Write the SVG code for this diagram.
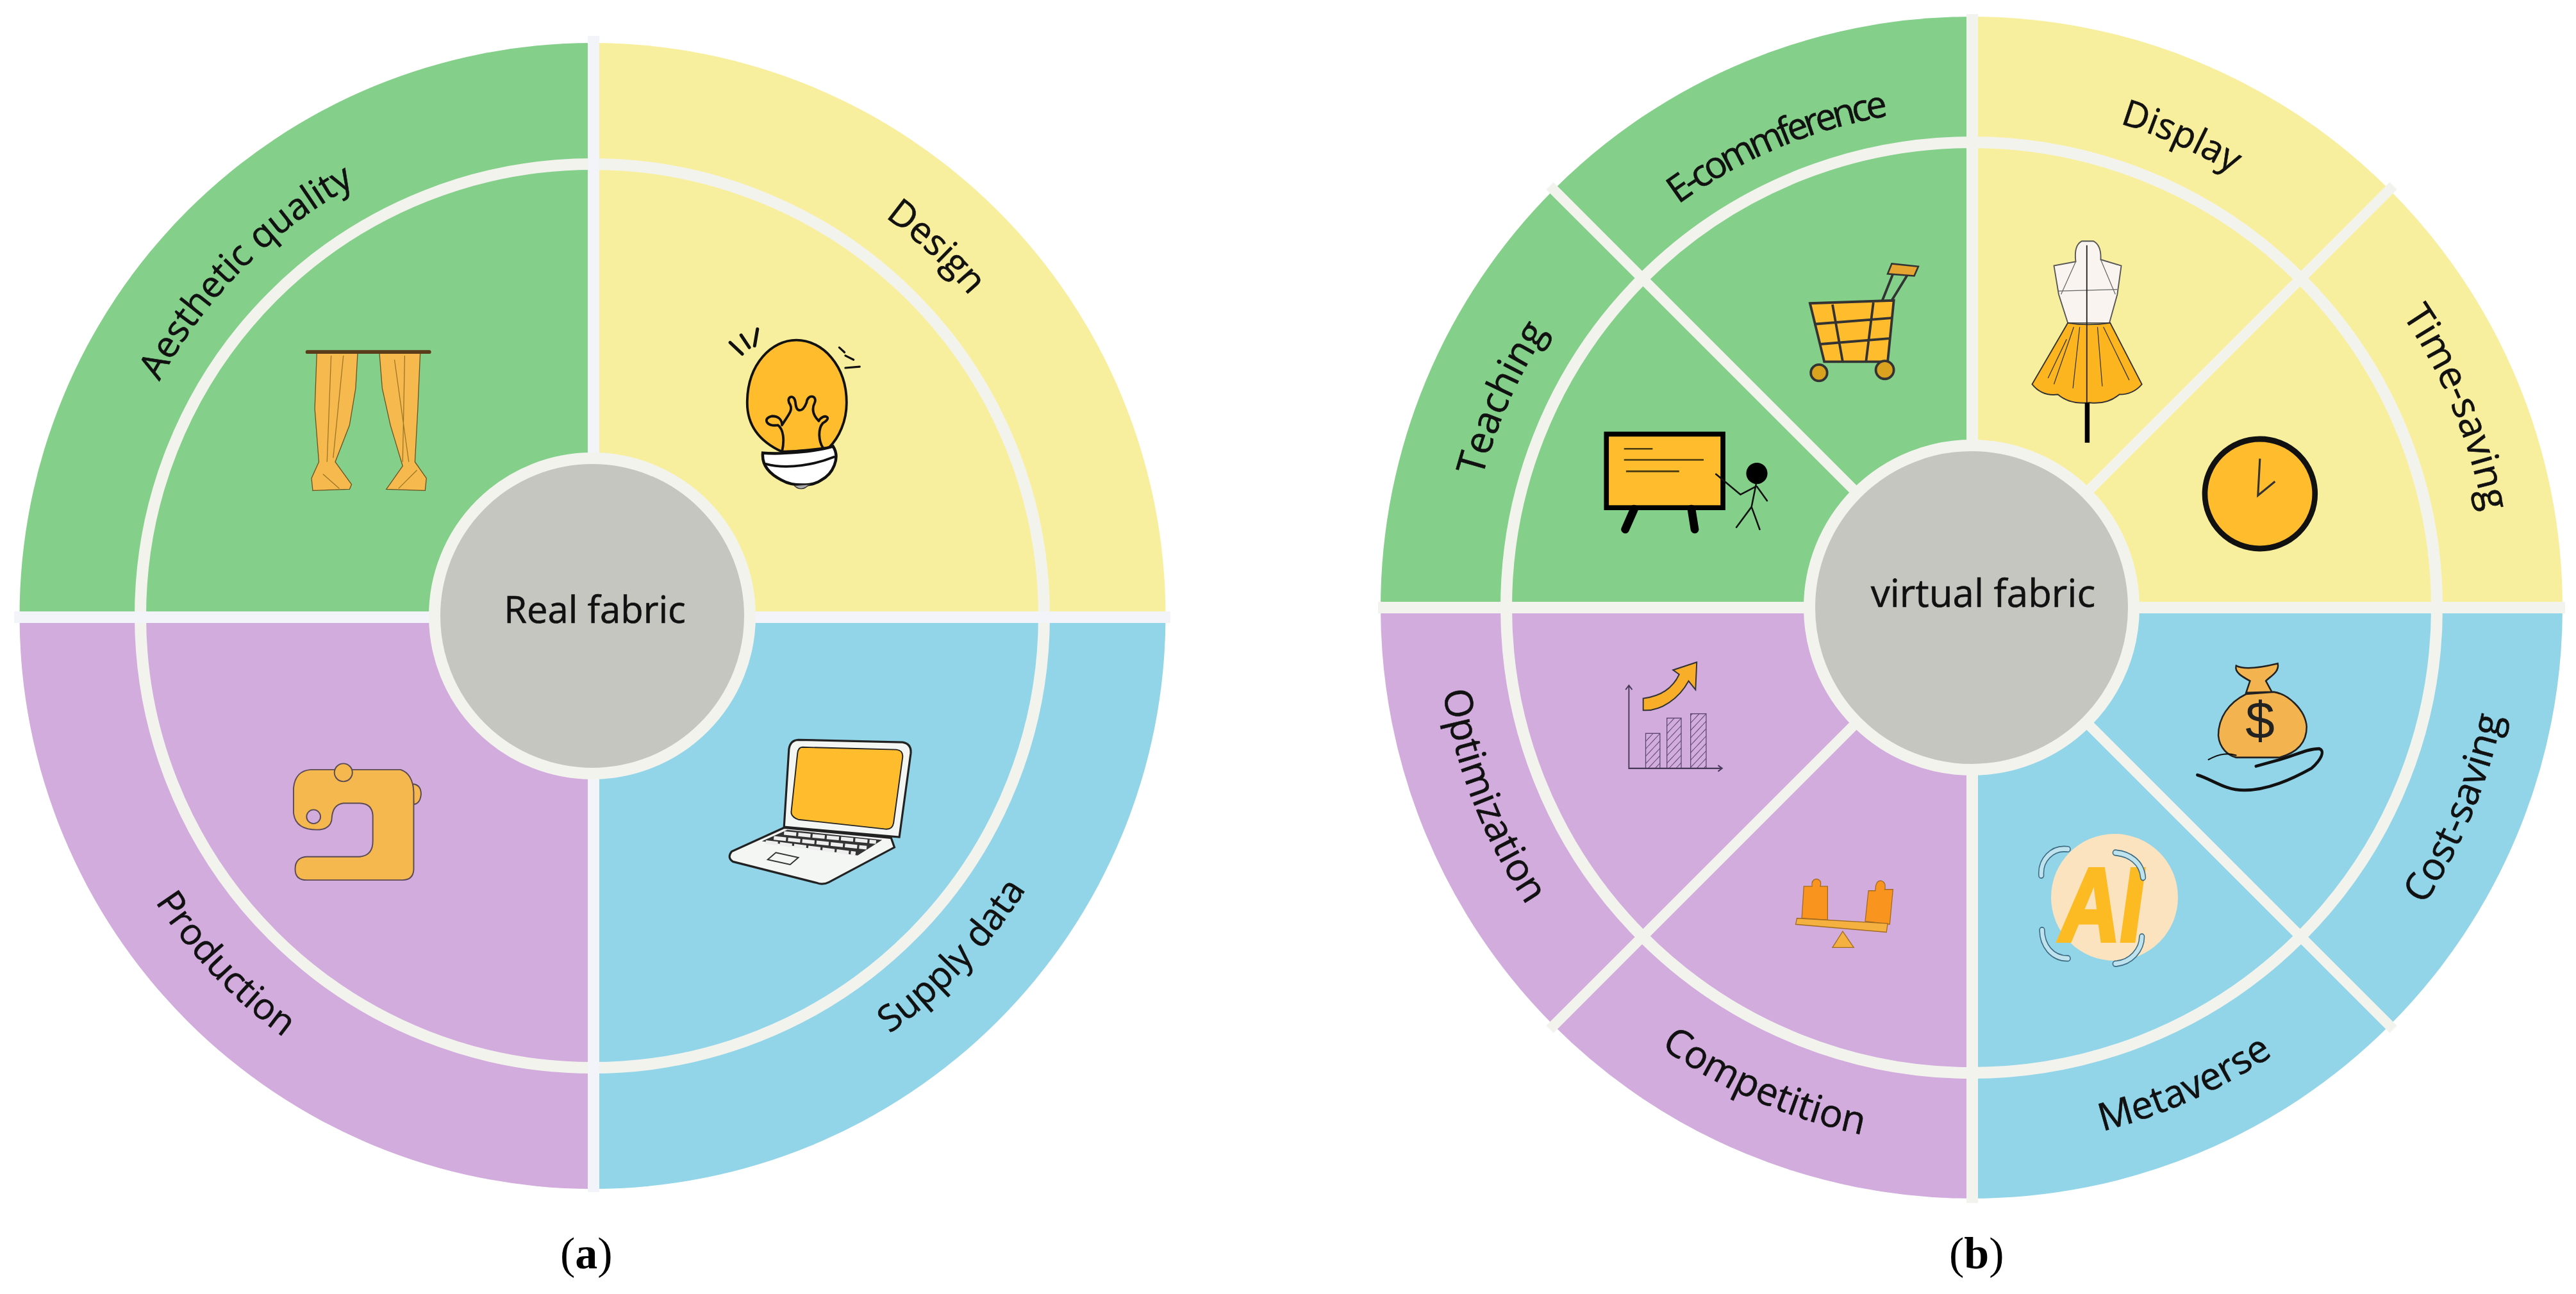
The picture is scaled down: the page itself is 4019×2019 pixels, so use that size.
<svg xmlns="http://www.w3.org/2000/svg" xmlns:xlink="http://www.w3.org/1999/xlink" width="4019" height="2019" viewBox="0 0 4019 2019">
<style>
.g{fill:#84CF8A}.y{fill:#F8EF9E}.p{fill:#D1ACDD}.b{fill:#92D5E8}
.hub{fill:#C6C6C1;stroke:#F3F3EE;stroke-width:18}
.ring{fill:none;stroke:#F3F3EE;stroke-width:18}
.dl{stroke:#F3F4F9;stroke-width:18;fill:none}
.dr{stroke:#F3F3EE;stroke-width:18;fill:none}
.dd{stroke:#F3F3EE;stroke-width:16;fill:none}
.lbl{font-family:"Open Sans","Noto Sans",sans-serif;font-size:60px;fill:#111;stroke:#111;stroke-width:.6;text-anchor:middle}
.lbl2{font-size:57px}
.hubt{font-family:"Open Sans","Noto Sans",sans-serif;font-size:58px;fill:#111;stroke:#111;stroke-width:.6;text-anchor:middle}
.cap{font-family:"Liberation Serif",serif;font-size:70px;fill:#000}
.cap tspan{font-weight:bold}
.k{fill:none;stroke:#111;stroke-linecap:round;stroke-linejoin:round}
.or{fill:#FFBD2E}
</style>
<defs>
<path id="a768" d="M-384,-665.1A768,768 0 0 1 384,-665.1"/>
<path id="a772" d="M-386,-668.6A772,772 0 0 1 386,-668.6"/>
<path id="i815" d="M-407.5,705.8A815,815 0 0 0 407.5,705.8"/>
<path id="i800" d="M-400,692.8A800,800 0 0 0 400,692.8"/>
<path id="a790" d="M-395,-684.1A790,790 0 0 1 395,-684.1"/>
<path id="a778" d="M-389,-673.7A778,778 0 0 1 389,-673.7"/>
<path id="a812" d="M-406,-703.2A812,812 0 0 1 406,-703.2"/>
<path id="i835" d="M-417.5,723.1A835,835 0 0 0 417.5,723.1"/>
<path id="i840" d="M-420,727.4A840,840 0 0 0 420,727.4"/>
<path id="i842" d="M-421,729.2A842,842 0 0 0 421,729.2"/>
<path id="i845" d="M-422.5,731.8A845,845 0 0 0 422.5,731.8"/>
<pattern id="hatch" width="12" height="12" patternUnits="userSpaceOnUse" patternTransform="rotate(45)"><rect width="12" height="12" fill="#D1ACDD"/><path d="M0,0V12" stroke="#5b4570" stroke-width="3"/></pattern>
</defs>
<rect width="4019" height="2019" fill="#fff"/>

<g id="real-fabric-chart">
<g id="aesthetic-quality">
<path class="g" d="M924.5,961V67A894,894 0 0 0 30.5,961Z"/>
<text class="lbl lbl2" transform="translate(924,961) rotate(-45.2)"><textPath href="#a768" startOffset="50%">Aesthetic quality</textPath></text>
<g transform="scale(.6378)">
<path d="M775,862H875L870,950L855,1040L820,1130L860,1185L855,1197L765,1200L762,1170L780,1130L770,1000Z" fill="#F5B94D" stroke="#6b5022" stroke-width="2"/>
<path d="M928,862H1028L1022,1000L1015,1130L1043,1170L1040,1200L945,1197L985,1140L955,1040L935,950Z" fill="#F5B94D" stroke="#6b5022" stroke-width="2"/>
<path d="M810,870L800,1130M840,870L815,1120M990,870L985,1130M965,880L1000,1130M790,1160L830,1195M1020,1150L975,1195" fill="none" stroke="#9c7428" stroke-width="2"/>
<path d="M752,861H1050" stroke="#5a3a18" stroke-width="9" stroke-linecap="round"/>
</g>
</g>
<g id="design">
<path class="y" d="M924.5,961V67A894,894 0 0 1 1818.5,961Z"/>
<text class="lbl lbl2" transform="translate(924,961) rotate(43)"><textPath href="#a772" startOffset="50%">Design</textPath></text>
<g transform="translate(1000,0) scale(.6378)">
<path d="M345,1105C290,1080 258,1040 260,980C262,890 320,832 380,832C445,832 503,895 503,985C503,1030 485,1070 460,1095C420,1100 380,1105 345,1105Z" class="or" stroke="#111" stroke-width="6"/>
<path d="M298,1108C340,1112 430,1105 470,1092C488,1120 470,1160 440,1175C420,1190 370,1190 345,1175C315,1160 295,1140 298,1108Z" fill="#fff" stroke="#111" stroke-width="7"/>
<path d="M375,1188Q393,1205 412,1185Z" fill="#aaa" stroke="#333" stroke-width="2"/>
<path class="k" stroke-width="6" d="M305,1135C360,1150 430,1135 472,1118"/>
<path class="k" stroke-width="6" d="M345,1105C352,1075 348,1050 335,1040C305,1045 298,1022 320,1018C340,1018 345,1030 345,1040C360,1015 372,1005 365,990C352,972 375,960 378,985C380,1010 395,1010 405,985C408,962 432,968 425,985C415,1005 425,1020 435,1030C445,1010 472,1020 445,1035C432,1050 435,1080 445,1095"/>
<path class="k" stroke-width="8" d="M218,838L248,866M245,820L265,850M285,805L278,846"/>
<path class="k" stroke-width="5" d="M485,850L498,862M500,870L520,880M500,900L535,897"/>
</g>
</g>
<g id="production">
<path class="p" d="M924.5,961V1855A894,894 0 0 1 30.5,961Z"/>
<text class="lbl lbl2" transform="translate(924,961) rotate(46.5)"><textPath href="#i815" startOffset="50%">Production</textPath></text>
<g transform="translate(0,1000) scale(.6378)">
<path d="M1010,350Q1030,352 1030,375Q1028,398 1012,400Z" fill="#F4B84F" stroke="#5a4a55" stroke-width="3"/>
<path d="M760,315H980Q1010,325 1012,370V560Q1010,585 985,585H750Q722,585 722,558Q722,530 750,528H880Q912,525 912,490V430Q912,398 880,397H840Q815,400 812,430Q812,462 775,462Q722,462 718,420V360Q722,318 760,315Z" fill="#F4B84F" stroke="#5a4a55" stroke-width="3"/>
<circle cx="767" cy="430" r="17" fill="#D1ACDD" stroke="#5a4a55" stroke-width="3"/>
<circle cx="840" cy="322" r="22" fill="#F4B84F" stroke="#5a4a55" stroke-width="3"/>
</g>
</g>
<g id="supply-data">
<path class="b" d="M924.5,961V1855A894,894 0 0 0 1818.5,961Z"/>
<text class="lbl lbl2" transform="translate(924,961) rotate(-46.6)"><textPath href="#i800" startOffset="50%">Supply data</textPath></text>
<g transform="translate(1000,1000) scale(.6378)">
<path d="M385,242L640,248Q662,252 660,275L632,480L350,455L362,265Q365,243 385,242Z" fill="#F4F6F4" stroke="#222" stroke-width="5"/>
<path d="M395,260L625,266Q642,268 640,285L618,445Q615,463 595,460L385,437Q365,430 368,415L383,275Q385,260 395,260Z" class="or" stroke="#222" stroke-width="3"/>
<path d="M350,457L612,482L620,505L460,590Q445,598 430,592L225,540Q210,530 222,515Z" fill="#F4F6F4" stroke="#222" stroke-width="5"/>
<path d="M358,462L590,487L530,525L296,490Z" fill="#333"/>
<path d="M350,470L575,492M325,482L552,506M305,492L525,520" stroke="#eee" stroke-width="9" stroke-dasharray="30,5" fill="none"/>
<path d="M310,535L330,518L385,530L365,547Z" fill="none" stroke="#333" stroke-width="3"/>
</g>
</g>
<g id="real-dividers">
<circle class="ring" cx="924" cy="961" r="705"/>
<path class="dl" d="M926,56V1860M22,963H1826"/>
</g>
<g id="real-fabric">
<circle class="hub" cx="924" cy="961" r="246"/>
<text class="hubt" x="928" y="972">Real fabric</text>
</g>
<text id="caption-a" class="cap" x="874" y="1979">(<tspan>a</tspan>)</text>
</g>

<g id="virtual-fabric-chart">
<g id="teaching">
<path class="g" d="M3076,948H2154A922,922 0 0 1 2424,296Z"/>
<text class="lbl" transform="translate(3076,948) rotate(-66)"><textPath href="#a790" startOffset="50%">Teaching</textPath></text>
<g transform="translate(2100,0) scale(.6378)">
<rect x="637" y="1062" width="285" height="180" class="or" stroke="#000" stroke-width="12"/>
<path d="M705,1245L683,1295M845,1245L853,1295" stroke="#000" stroke-width="20" stroke-linecap="round"/>
<path d="M680,1098H750M680,1125H875M685,1153H815" stroke="#4a3a10" stroke-width="4"/>
<circle cx="1005" cy="1158" r="26" fill="#000"/>
<path class="k" stroke-width="4" d="M1003,1185L992,1240L955,1290M992,1240L1012,1295M1003,1190L965,1210L905,1160M1005,1190L1030,1225"/>
</g>
</g>
<g id="e-commerce">
<path class="g" d="M3076,948L2424,296A922,922 0 0 1 3076,26Z"/>
<text class="lbl" style="font-size:58px;letter-spacing:-5.5px" transform="translate(3076,948) rotate(-23)"><textPath href="#a778" startOffset="50%">E-commference</textPath></text>
<g transform="translate(2100,0) scale(.6378)">
<path d="M1135,742L1340,735L1325,885L1170,885Z" class="or" stroke="#333" stroke-width="6"/>
<path d="M1190,745L1215,885M1290,740L1272,885M1145,793L1335,778M1160,842L1328,828M1312,735L1340,665M1335,735L1375,670" stroke="#333" stroke-width="6" fill="none"/>
<path d="M1325,670L1335,645L1400,652L1390,675Z" fill="#E5A530" stroke="#333" stroke-width="4"/>
<circle cx="1157" cy="912" r="20" fill="#D9A21F" stroke="#333" stroke-width="6"/>
<circle cx="1318" cy="905" r="22" fill="#D9A21F" stroke="#333" stroke-width="6"/>
</g>
</g>
<g id="display">
<path class="y" d="M3076,948V26A922,922 0 0 1 3728,296Z"/>
<text class="lbl lbl2" transform="translate(3076,948) rotate(24)"><textPath href="#a790" startOffset="50%">Display</textPath></text>
<g transform="translate(3050,0) scale(.618,.6378)">
<path d="M305,640Q300,600 320,590H350Q370,600 368,635L420,650L410,720L390,790H285L262,720L250,650Z" fill="#F9F4EF" stroke="#555" stroke-width="3"/>
<path d="M262,712L410,708M305,640L268,720M368,635L405,720" stroke="#666" stroke-width="2" fill="none"/>
<path d="M285,790Q335,798 392,790L472,940Q450,965 415,965Q385,990 340,985Q290,990 260,965Q220,970 195,940Z" fill="#FCB51F" stroke="#333" stroke-width="3"/>
<path d="M300,800L250,940M315,800L298,950M360,800L372,945M375,800L440,930M282,830L235,925" stroke="#333" stroke-width="2" fill="none"/>
<path d="M333,600V990" stroke="#222" stroke-width="3"/>
<rect x="328" y="985" width="12" height="98" fill="#000"/>
</g>
</g>
<g id="time-saving">
<path class="y" d="M3076,948L3728,296A922,922 0 0 1 3998,948Z"/>
<text class="lbl" transform="translate(3076,948) rotate(67.6)"><textPath href="#a812" startOffset="50%">Time-saving</textPath></text>
<g transform="translate(3050,0) scale(.618,.6378)">
<ellipse cx="770" cy="1208" rx="139" ry="134" class="or" stroke="#111" stroke-width="14"/>
<path d="M770,1122L765,1212L808,1178" stroke="#333" stroke-width="5" fill="none"/>
</g>
</g>
<g id="optimization">
<path class="p" d="M3076,948H2154A922,922 0 0 0 2424,1600Z"/>
<text class="lbl" transform="translate(3076,948) rotate(68.6)"><textPath href="#i835" startOffset="50%">Optimization</textPath></text>
<g transform="translate(2100,950) scale(.6378,.6818)">
<rect x="733" y="285" width="35" height="80" fill="url(#hatch)" stroke="#5b4570" stroke-width="2"/>
<rect x="785" y="250" width="35" height="115" fill="url(#hatch)" stroke="#5b4570" stroke-width="2"/>
<rect x="843" y="240" width="38" height="125" fill="url(#hatch)" stroke="#5b4570" stroke-width="2"/>
<path d="M692,175V365H920M684,185L692,175L700,185M910,358L920,365L910,372" fill="none" stroke="#4a3a5a" stroke-width="3"/>
<path d="M727,205C770,200 800,180 815,150L800,140L858,122L855,185L838,165C815,205 770,235 727,232Z" fill="#F9AE29" stroke="#333" stroke-width="3"/>
</g>
</g>
<g id="competition">
<path class="p" d="M3076,948L2424,1600A922,922 0 0 0 3076,1870Z"/>
<text class="lbl" transform="translate(3076,948) rotate(23.5)"><textPath href="#i840" startOffset="50%">Competition</textPath></text>
<g transform="translate(2100,950) scale(.6378,.6818)">
<path d="M1115,708L1120,635H1140Q1138,620 1150,618Q1165,620 1160,635H1178V712Z" fill="#F9941F" stroke="#a06a20" stroke-width="2"/>
<path d="M1270,715L1278,645H1295Q1295,622 1308,622Q1322,625 1318,642H1338L1330,722Z" fill="#F9941F" stroke="#a06a20" stroke-width="2"/>
<path d="M1103,708L1325,720L1322,740L1100,722Z" fill="#F5B13F" stroke="#a06a20" stroke-width="2"/>
<path d="M1215,738L1190,775H1242Z" fill="#F5B13F" stroke="#a06a20" stroke-width="2"/>
</g>
</g>
<g id="metaverse">
<path class="b" d="M3076,948V1870A922,922 0 0 0 3728,1600Z"/>
<text class="lbl" transform="translate(3076,948) rotate(-24)"><textPath href="#i842" startOffset="50%">Metaverse</textPath></text>
<ellipse cx="3299" cy="1400" rx="99" ry="99" fill="#FBE3BF"/>
<text transform="translate(3208,1468) skewX(-8) scale(1,1.25)" font-family="'Liberation Sans',sans-serif" font-weight="bold" font-size="130" fill="#FDBB23" stroke="#FDBB23" stroke-width="5">AI</text>
<g transform="translate(3050,950) scale(.618,.6818)" fill="none" stroke-linecap="round">
<path stroke="#3a6a80" stroke-width="15" d="M285,550C245,545 215,575 218,610M405,558C440,560 472,580 475,615M220,735C220,770 245,800 285,800M472,750C472,780 445,810 405,812"/>
<path stroke="#BFE3EE" stroke-width="10" d="M285,550C245,545 215,575 218,610M405,558C440,560 472,580 475,615M220,735C220,770 245,800 285,800M472,750C472,780 445,810 405,812"/>
</g>
</g>
<g id="cost-saving">
<path class="b" d="M3076,948L3728,1600A922,922 0 0 0 3998,948Z"/>
<text class="lbl" transform="translate(3076,948) rotate(-67.5)"><textPath href="#i845" startOffset="50%">Cost-saving</textPath></text>
<g transform="translate(3050,950) scale(.618,.6818)">
<path d="M735,195C690,215 665,250 665,290C668,320 690,335 710,340L820,340C860,330 888,310 888,270C885,230 840,195 805,190Z" fill="#F3B34F" stroke="#222" stroke-width="4"/>
<path d="M710,130C730,140 770,135 815,125C820,145 795,155 785,165L800,190L735,192L745,165C725,155 705,145 710,130Z" fill="#F3B34F" stroke="#222" stroke-width="4"/>
<path class="k" stroke-width="7" d="M612,380C650,390 680,415 730,415C790,415 850,390 900,365C925,345 935,325 920,320C890,320 860,335 820,345L760,360"/>
<path class="k" stroke-width="3" d="M640,345C670,330 690,330 710,335"/>
</g>
<text x="3526" y="1152" font-family="'Liberation Sans',sans-serif" font-size="82" text-anchor="middle" fill="#222">$</text>
</g>
<g id="virtual-dividers">
<circle class="ring" cx="3076" cy="948" r="726"/>
<path class="dr" d="M3077,22V1877M2150,948H4002"/>
<path class="dd" d="M2418,290L3734,1606M3734,290L2418,1606"/>
</g>
<g id="virtual-fabric">
<circle class="hub" cx="3076" cy="948" r="253"/>
<text class="hubt" x="3094" y="947" style="font-size:60px">virtual fabric</text>
</g>
<text id="caption-b" class="cap" x="3041" y="1979">(<tspan>b</tspan>)</text>
</g>
</svg>
